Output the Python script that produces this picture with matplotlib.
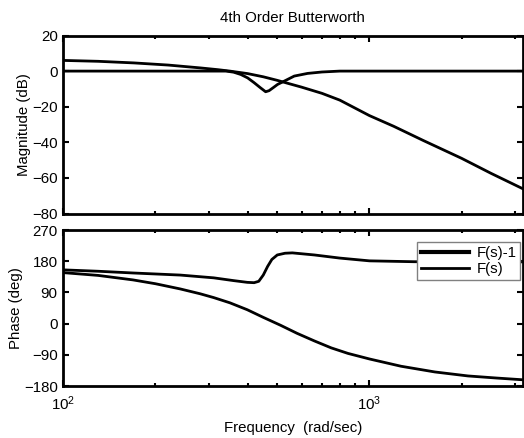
import numpy as np
import matplotlib
matplotlib.use("Agg")
import matplotlib.pyplot as plt

plt.rcParams["font.family"] = ["Liberation Sans", "DejaVu Sans"]
plt.rcParams["font.size"] = 10.8

# magnitude (dB)
w_mag_f = [100, 130, 170, 220, 280, 320, 350, 400, 450, 500, 550, 600, 700, 800,
           1000, 1200, 1500, 2000, 2500, 3162]
mag_f = [6, 5.5, 4.6, 3.4, 1.8, 0.8, 0, -1.4, -3.2, -5.2, -7.2, -9.0, -12.5, -16.3,
         -25, -31, -39, -49, -57.5, -66]

w_mag_f1 = [100, 250, 340, 360, 380, 400, 420, 440, 458, 470, 485, 501, 533, 568,
            628, 700, 800, 1000, 3162]
mag_f1 = [0, 0, 0, -0.6, -1.9, -3.8, -6.5, -9.3, -11.6, -11, -9.3, -7.5, -5.2, -2.8,
          -1.3, -0.5, 0, 0, 0]

# phase (deg)
w_ph_f1 = [100, 130, 169, 241, 310, 360, 399, 420, 435, 450, 465, 480, 500, 530, 560,
           661, 800, 1000, 1400, 3162]
ph_f1 = [155, 151, 146, 140, 132, 124, 119, 118, 122, 140, 165, 185, 198, 203, 204,
         198, 189, 181, 178.5, 178]

w_ph_f = [100, 130, 169, 200, 241, 280, 310, 350, 399, 450, 513, 580, 661, 750, 851,
          1000, 1268, 1636, 2098, 2600, 3162]
ph_f = [147, 139, 126, 115, 100, 86, 75, 60, 40, 18, -5, -28, -50, -70, -86,
        -102, -123, -139.5, -151, -157, -162]

lw = 2.0
xmin, xmax = 100, 10 ** 3.5

fig = plt.figure(figsize=(5.24, 4.38), dpi=100)
ax1 = fig.add_axes([63.3 / 524, 1 - 213.5 / 438, (522.5 - 63.3) / 524, (213.5 - 35.5) / 438])
ax2 = fig.add_axes([63.3 / 524, 1 - 386 / 438, (522.5 - 63.3) / 524, (386 - 230) / 438])

ax1.semilogx(w_mag_f1, mag_f1, color="black", lw=lw)
ax1.semilogx(w_mag_f, mag_f, color="black", lw=lw)
ax1.set_ylim(-80, 20)
ax1.set_yticks([20, 0, -20, -40, -60, -80])
ax1.set_ylabel("Magnitude (dB)", labelpad=0.5)
ax1.set_title("4th Order Butterworth", fontsize=10.8, pad=10)
ax1.tick_params(labelbottom=False)

ax2.semilogx(w_ph_f1, ph_f1, color="black", lw=lw, label="F(s)-1")
ax2.semilogx(w_ph_f, ph_f, color="black", lw=lw, label="F(s)")
ax2.set_ylim(-180, 270)
ax2.set_yticks([270, 180, 90, 0, -90, -180])
ax2.set_ylabel("Phase (deg)", labelpad=0.5)
ax2.set_xlabel("Frequency  (rad/sec)", labelpad=6)
leg = ax2.legend(loc="upper right", bbox_to_anchor=(0.9946, 0.923), borderaxespad=0,
                 fancybox=False, handlelength=3.2, borderpad=0.25, labelspacing=0.15,
                 handletextpad=0.5, framealpha=1)
leg.get_frame().set_edgecolor("#808080")
leg.get_lines()[0].set_linewidth(3)

for ax in (ax1, ax2):
    ax.set_xlim(xmin, xmax)
    for s in ax.spines.values():
        s.set_linewidth(2)
    ax.tick_params(which="both", direction="in", top=True, right=True, width=1.5)
    ax.tick_params(which="major", length=4, pad=4)
    ax.tick_params(which="minor", length=2.5)
ax2.tick_params(axis="x", which="major", pad=6)

plt.savefig("out.png", dpi=100)
